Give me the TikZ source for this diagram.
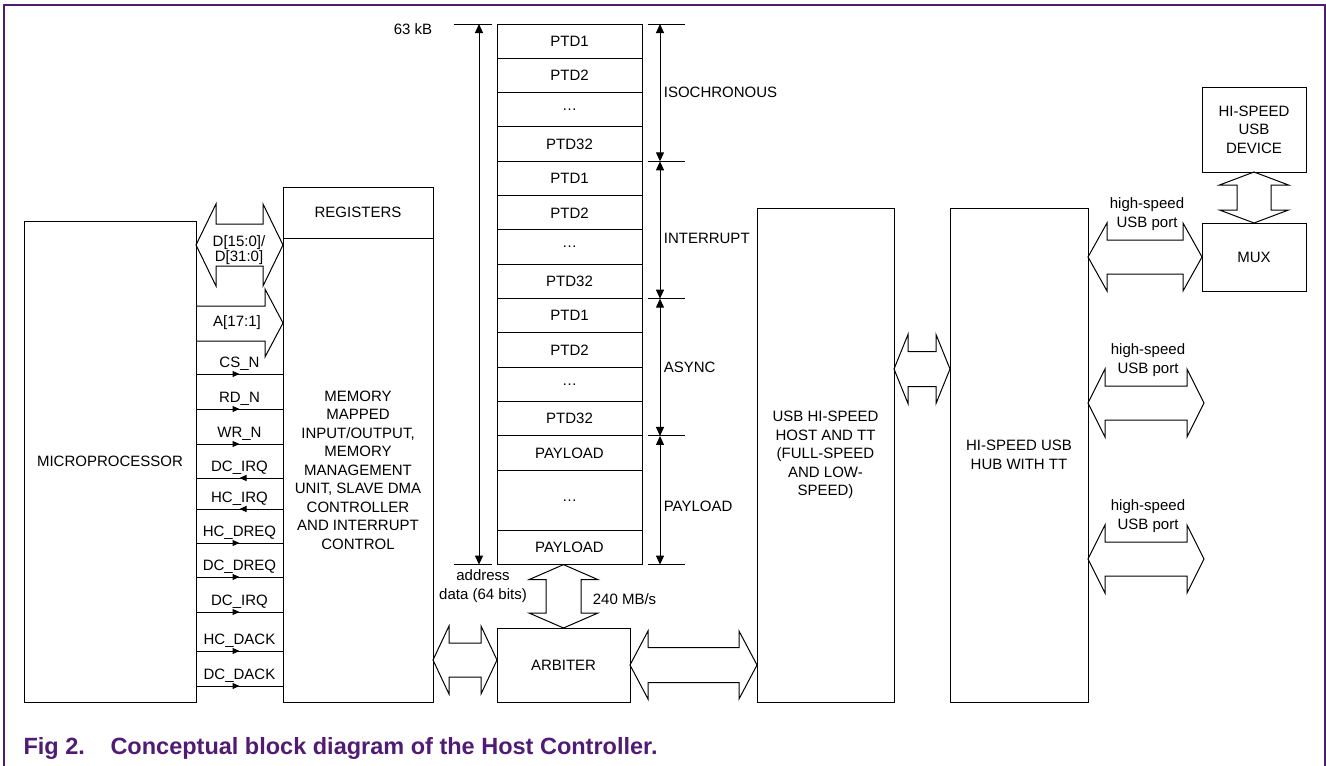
\documentclass[tikz,border=0pt]{standalone}
\usepackage{fontspec}
\setmainfont{Liberation Sans}
\usetikzlibrary{arrows.meta,positioning,calc,decorations.markings}
\definecolor{figpurple}{HTML}{501C73}

\newcommand{\hbus}[5]{%
  \draw (#1) -- ++(#3,-#4) -- ++(0,#4-#5) -- ($(#2)+(-#3,-#5)$) -- ++(0,#5-#4) -- (#2)
    -- ++(-#3,#4) -- ++(0,#5-#4) -- ($(#1)+(#3,#5)$) -- ++(0,#4-#5) -- cycle;}
\newcommand{\vbus}[5]{%
  \draw (#1) -- ++(#4,#3) -- ++(#5-#4,0) -- ($(#2)+(#5,-#3)$) -- ++(#4-#5,0) -- (#2)
    -- ++(-#4,-#3) -- ++(#4-#5,0) -- ($(#1)+(-#5,#3)$) -- ++(#5-#4,0) -- cycle;}

\begin{document}
\begin{tikzpicture}[
    x=1pt, y=-1pt, line width=1pt,
    every node/.style={font=\fontsize{15}{18.5}\selectfont},
    box/.style={draw, inner sep=0pt, outer sep=0pt, align=center},
    ptdrow/.style={box, minimum width=145pt, minimum height=34.33pt},
    sig/.style={postaction={decorate}, decoration={markings,
        mark=at position 0.5 with {\arrow{Triangle[length=7pt,width=6pt]}}}},
    dim/.style={{Triangle[length=9pt,width=8pt]}-{Triangle[length=9pt,width=8pt]}},
    figcap/.style={font=\fontsize{23.5}{28}\selectfont\bfseries, text=figpurple, inner sep=0pt}
]
    \useasboundingbox (0,0) rectangle (1326,766);
    \draw[figpurple, line width=1.3pt] (4,766) -- (4,5) -- (1325,5) -- (1325,766);

    \node[box, minimum width=172pt, minimum height=481pt] (mp) at (110,461.5) {MICROPROCESSOR};
    \node[box, minimum width=150pt, minimum height=51pt] (reg) at (358,212.5) {REGISTERS};
    \node[box, minimum width=150pt, minimum height=464pt] (mmu) at (358,470) {MEMORY\\MAPPED\\INPUT/OUTPUT,\\MEMORY\\MANAGEMENT\\UNIT, SLAVE DMA\\CONTROLLER\\AND INTERRUPT\\CONTROL};

    \node[ptdrow] (r1) at (569.5,41.17) {PTD1};
    \node[ptdrow, below=0pt of r1] (r2) {PTD2};
    \node[ptdrow, below=0pt of r2] (r3) {\dots};
    \node[ptdrow, below=0pt of r3] (r4) {PTD32};
    \node[ptdrow, below=0pt of r4] (r5) {PTD1};
    \node[ptdrow, below=0pt of r5] (r6) {PTD2};
    \node[ptdrow, below=0pt of r6] (r7) {\dots};
    \node[ptdrow, below=0pt of r7] (r8) {PTD32};
    \node[ptdrow, below=0pt of r8] (r9) {PTD1};
    \node[ptdrow, below=0pt of r9] (r10) {PTD2};
    \node[ptdrow, below=0pt of r10] (r11) {\dots};
    \node[ptdrow, below=0pt of r11] (r12) {PTD32};
    \node[ptdrow, below=0pt of r12] (r13) {PAYLOAD};
    \node[ptdrow, below=0pt of r13, minimum height=60pt] (r14) {\dots};
    \node[ptdrow, below=0pt of r14] (r15) {PAYLOAD};

    \node[box, minimum width=133pt, minimum height=74pt] (arb) at (563.5,665) {ARBITER};
    \node[box, minimum width=137pt, minimum height=494pt] (host) at (825.5,455) {USB HI-SPEED\\HOST AND TT\\(FULL-SPEED\\AND LOW-\\SPEED)};
    \node[box, minimum width=138pt, minimum height=494pt] (hub) at (1019,455) {HI-SPEED USB\\HUB WITH TT};
    \node[box, minimum width=104pt, minimum height=68pt] (mux) at (1254,257) {MUX};
    \node[box, minimum width=104pt, minimum height=85pt] (dev) at (1254,129.5) {HI-SPEED\\USB\\DEVICE};

    \hbus{mp.east |- 0,245}{mmu.west |- 0,245}{20}{41}{21}
    \node[font=\fontsize{15}{13.5}\selectfont, align=center] (dlbl) at (239,250) {D[15:0]/\\D[31:0]};
    \draw (mp.east |- 0,306) -- (265,306) -- (265,289) -- (mmu.west |- 0,323) -- (265,357) -- (265,341) -- (mp.east |- 0,341);
    \node (albl) at (237,323) {A[17:1]};

    \draw[sig] (mp.east |- 0,374) -- node[above] (csn) {CS\_N} (mmu.west |- 0,374);
    \draw[sig] (mp.east |- 0,409) -- node[above] (rdn) {RD\_N} (mmu.west |- 0,409);
    \draw[sig] (mp.east |- 0,444) -- node[above] (wrn) {WR\_N} (mmu.west |- 0,444);
    \draw[sig] (mmu.west |- 0,478) -- node[above] (dcirq) {DC\_IRQ} (mp.east |- 0,478);
    \draw[sig] (mmu.west |- 0,509) -- node[above] (hcirq) {HC\_IRQ} (mp.east |- 0,509);
    \draw[sig] (mp.east |- 0,543) -- node[above] (hcdreq) {HC\_DREQ} (mmu.west |- 0,543);
    \draw[sig] (mp.east |- 0,577) -- node[above] (dcdreq) {DC\_DREQ} (mmu.west |- 0,577);
    \draw[sig] (mp.east |- 0,612) -- node[above] (dcirqb) {DC\_IRQ} (mmu.west |- 0,612);
    \draw[sig] (mp.east |- 0,651) -- node[above] (hcdack) {HC\_DACK} (mmu.west |- 0,651);
    \draw[sig] (mp.east |- 0,686) -- node[above] (dcdack) {DC\_DACK} (mmu.west |- 0,686);

    \coordinate (mtop) at (r1.north -| 479,0);
    \coordinate (mbot) at (r15.south -| 479,0);
    \draw ([xshift=-25pt]mtop) -- ([xshift=13pt]mtop);
    \draw ([xshift=-25pt]mbot) -- ([xshift=13pt]mbot);
    \draw[dim] (mtop) -- (mbot);
    \node[anchor=east] (kb) at (436,29) {63 kB};
    \node[below, align=center] (addr) at (483,566) {address\\data (64 bits)};

    \draw ([xshift=6pt]r1.north east) -- ([xshift=43pt]r1.north east);
    \draw ([xshift=6pt]r4.south east) -- ([xshift=43pt]r4.south east);
    \draw ([xshift=6pt]r8.south east) -- ([xshift=43pt]r8.south east);
    \draw ([xshift=6pt]r12.south east) -- ([xshift=43pt]r12.south east);
    \draw ([xshift=6pt]r15.south east) -- ([xshift=43pt]r15.south east);
    \draw[dim] ([xshift=18pt]r1.north east) -- node[right] (iso) {ISOCHRONOUS} ([xshift=18pt]r4.south east);
    \draw[dim] ([xshift=18pt]r4.south east) -- node[right, pos=0.56] (intr) {INTERRUPT} ([xshift=18pt]r8.south east);
    \draw[dim] ([xshift=18pt]r8.south east) -- node[right] (async) {ASYNC} ([xshift=18pt]r12.south east);
    \draw[dim] ([xshift=18pt]r12.south east) -- node[right, pos=0.55] (pay) {PAYLOAD} ([xshift=18pt]r15.south east);

    \vbus{arb.north |- r15.south}{arb.north}{15}{34.5}{17.5}
    \node[anchor=west] (rate) at (589,599) {240 MB/s};
    \hbus{mmu.east |- 0,660}{arb.west |- 0,660}{16}{34}{17}
    \hbus{arb.east}{host.west |- arb.east}{18}{34}{17.5}
    \hbus{host.east |- 0,369}{hub.west |- 0,369}{14}{34.5}{17.5}
    \hbus{hub.east |- mux.west}{mux.west}{19}{34}{17}
    \vbus{dev.south}{mux.north}{13}{34.5}{17}
    \coordinate (p2) at (1204,403);
    \coordinate (p3) at (1204,559);
    \hbus{hub.east |- p2}{p2}{17}{34}{17}
    \hbus{hub.east |- p3}{p3}{17}{34}{17}
    \node[align=center] (port1) at (1147,214) {high-speed\\USB port};
    \node[align=center] (port2) at (1148,360) {high-speed\\USB port};
    \node[align=center] (port3) at (1148,516) {high-speed\\USB port};

    \node[figcap, anchor=base west] (fig) at (23,754) {Fig 2.};
    \node[figcap, anchor=base west] (cap) at (110,754) {Conceptual block diagram of the Host Controller.};
\end{tikzpicture}
\end{document}
